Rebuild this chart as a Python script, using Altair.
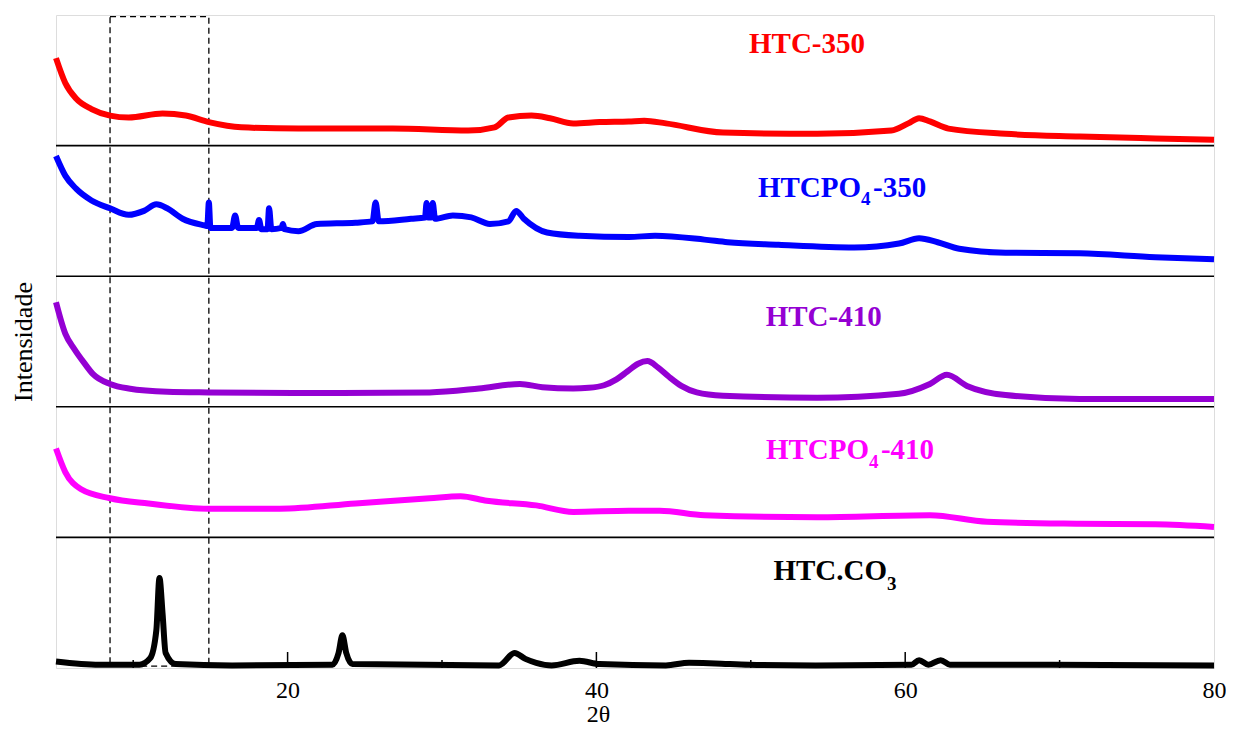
import altair as alt
import pandas as pd

# ---------------- data ----------------
# 2-theta positions and relative intensities (fraction of each panel height)
red_x = [5.0, 5.6, 6.3, 7.3, 8.5, 9.7, 11.9, 13.4, 14.9, 17.0, 20.7, 26.8, 31.7, 33.4, 34.3,
         35.8, 37.0, 38.5, 40.2, 42.1, 43.1, 44.5, 48.2, 54.3, 59.1, 60.2, 60.9, 61.6, 62.8,
         66.5, 71.3, 76.2, 80.0]
red_v = [0.67, 0.48, 0.36, 0.28, 0.23, 0.215, 0.245, 0.23, 0.18, 0.14, 0.13, 0.13, 0.115, 0.14,
         0.215, 0.23, 0.21, 0.17, 0.18, 0.185, 0.19, 0.17, 0.10, 0.09, 0.115, 0.17, 0.21, 0.185,
         0.13, 0.09, 0.07, 0.055, 0.045]

blue_x = [5.0, 5.6, 6.3, 7.3, 8.5, 9.7, 10.7, 11.5, 12.2, 13.2, 14.6, 14.8, 14.9, 15.0, 16.4,
          16.6, 16.8, 18.0, 18.15, 18.3, 18.7, 18.8, 18.95, 19.6, 19.7, 19.8, 20.7, 21.9, 24.4,
          25.5, 25.7, 25.9, 28.0, 28.9, 29.0, 29.1, 29.3, 29.4, 29.55, 30.7, 31.9, 33.1, 34.3,
          34.8, 35.3, 36.8, 38.9, 42.1, 43.8, 47.0, 48.5, 51.8, 56.7, 59.6, 60.9, 62.1, 63.5,
          66.5, 71.3, 76.2, 80.0]
blue_v = [0.92, 0.77, 0.67, 0.58, 0.52, 0.47, 0.50, 0.55, 0.52, 0.44, 0.39, 0.385, 0.565, 0.37,
          0.37, 0.465, 0.37, 0.37, 0.43, 0.36, 0.36, 0.52, 0.36, 0.37, 0.40, 0.36, 0.345, 0.40,
          0.41, 0.42, 0.565, 0.42, 0.44, 0.45, 0.56, 0.45, 0.45, 0.56, 0.44, 0.465, 0.45, 0.40,
          0.42, 0.50, 0.44, 0.335, 0.31, 0.30, 0.31, 0.28, 0.26, 0.24, 0.22, 0.25, 0.29, 0.26,
          0.21, 0.18, 0.175, 0.145, 0.13]

purple_x = [5.0, 5.6, 6.2, 6.8, 7.4, 8.5, 9.7, 12.2, 14.9, 21.9, 29.2, 32.4, 35.05, 36.5,
            38.5, 39.5, 40.5, 41.3, 42.0, 42.7, 43.3, 44.0, 44.7, 45.5, 46.5, 48.2, 54.3, 59.6,
            61.6, 62.7, 64.0, 66.5, 71.3, 80.0]
purple_v = [0.80, 0.56, 0.44, 0.34, 0.25, 0.175, 0.14, 0.115, 0.11, 0.105, 0.11, 0.14,
            0.175, 0.15, 0.14, 0.145, 0.165, 0.21, 0.27, 0.33, 0.35, 0.30, 0.23, 0.16, 0.11,
            0.085, 0.07, 0.10, 0.175, 0.245, 0.16, 0.09, 0.06, 0.06]

magenta_x = [5.0, 5.6, 6.6, 8.5, 11.0, 14.85, 19.5, 24.4, 29.2, 31.2, 32.9, 36.1, 38.5, 42.1,
             44.1, 47.0, 54.3, 61.6, 65.3, 71.3, 76.2, 80.0]
magenta_v = [0.68, 0.50, 0.37, 0.30, 0.26, 0.22, 0.22, 0.26, 0.30, 0.315, 0.28, 0.245, 0.195,
             0.205, 0.205, 0.17, 0.155, 0.17, 0.12, 0.105, 0.10, 0.08]

black_x = [5.0, 7.8, 10.4, 11.1, 11.5, 11.7, 11.9, 12.1, 12.75, 16.4, 22.9, 23.3, 23.55, 23.8,
           24.2, 33.7, 34.7, 35.4, 36.1, 37.1, 38.9, 40.2, 44.5, 46.0, 47.7, 49.9, 54.2, 60.4,
           60.9, 61.5, 62.3, 62.9, 66.1, 80.0]
black_v = [0.05, 0.025, 0.025, 0.075, 0.29, 0.69, 0.42, 0.115, 0.03, 0.02, 0.025, 0.115, 0.25,
           0.115, 0.03, 0.02, 0.115, 0.07, 0.04, 0.02, 0.055, 0.03, 0.02, 0.04, 0.035, 0.025,
           0.02, 0.025, 0.06, 0.025, 0.06, 0.025, 0.025, 0.02]

series_names = ["HTC-350", "HTCPO4-350", "HTC-410", "HTCPO4-410", "HTC.CO3"]
series_colors = ["#ff0000", "#0000ff", "#9400d3", "#ff00ff", "#000000"]
series_x = [red_x, blue_x, purple_x, magenta_x, black_x]
series_v = [red_v, blue_v, purple_v, magenta_v, black_v]

x_tick_labels = [20, 40, 60, 80]
major_ticks = [20, 40, 60]
minor_ticks = [10, 30, 50, 70]
box_x = [8.5, 14.9]

# ---------------- build tables ----------------
n = len(series_names)
rows = []
for i, (name, xs, vs) in enumerate(zip(series_names, series_x, series_v)):
    offset = n - 1 - i
    for k, (xv, vv) in enumerate(zip(xs, vs)):
        rows.append({"series": name, "order": k, "theta": xv, "y": offset + vv})
df = pd.DataFrame(rows)

W, H = 1158, 653
xscale = alt.Scale(domain=[5, 80], nice=False, zero=False)
yscale = alt.Scale(domain=[0, n], nice=False, zero=False)
cscale = alt.Scale(domain=series_names, range=series_colors)

FONT = "Liberation Serif"

lines = alt.Chart(df).mark_line(strokeWidth=6, interpolate="monotone", strokeJoin="round").encode(
    x=alt.X("theta:Q", scale=xscale,
            axis=alt.Axis(values=x_tick_labels, ticks=False, domain=False, grid=False,
                          labelFont=FONT, labelFontSize=24, labelColor="black",
                          labelPadding=10, labelFlush=False, title="2θ",
                          titleFont=FONT, titleFontSize=24, titleFontWeight="normal",
                          titleColor="black", titlePadding=0, titleX=542)),
    y=alt.Y("y:Q", scale=yscale,
            axis=alt.Axis(labels=False, ticks=False, domain=False, grid=False,
                          title="Intensidade", titleFont=FONT, titleFontSize=26,
                          titleFontWeight="normal", titleColor="black", titlePadding=20)),
    color=alt.Color("series:N", scale=cscale, legend=None),
    order="order:Q",
)

sep_df = pd.DataFrame({"y": list(range(1, n))})
separators = alt.Chart(sep_df).mark_rule(color="black", strokeWidth=1.6).encode(
    y=alt.Y("y:Q", scale=yscale), x=alt.value(0), x2=alt.value(W))

box_df = pd.DataFrame({"x": [box_x[0]], "x2": [box_x[1]], "y": [0.015], "y2": [n - 0.012]})
box = alt.Chart(box_df).mark_rect(fillOpacity=0, stroke="black", strokeWidth=1.3,
                                  strokeDash=[6, 4]).encode(
    x=alt.X("x:Q", scale=xscale), x2="x2:Q",
    y=alt.Y("y:Q", scale=yscale), y2="y2:Q")

maj = alt.Chart(pd.DataFrame({"t": major_ticks})).mark_rule(color="black", strokeWidth=1.5).encode(
    x=alt.X("t:Q", scale=xscale), y=alt.value(H), y2=alt.value(H - 16))
mnr = alt.Chart(pd.DataFrame({"t": minor_ticks})).mark_rule(color="black", strokeWidth=1.5).encode(
    x=alt.X("t:Q", scale=xscale), y=alt.value(H), y2=alt.value(H - 8))

# series labels (main part, subscript, tail)
lab_main = pd.DataFrame({
    "text": ["HTC-350", "HTCPO", "HTC-410", "HTCPO", "HTC.CO"],
    "x": [53.64, 57.14, 54.72, 57.66, 58.82],
    "y": [4.709, 3.609, 2.619, 1.603, 0.674],
    "series": series_names,
    "align": ["center", "right", "center", "right", "right"],
})
lab_sub = pd.DataFrame({
    "text": ["4", "4", "3"],
    "x": [57.14, 57.66, 58.82],
    "y": [3.545, 1.534, 0.597],
    "series": ["HTCPO4-350", "HTCPO4-410", "HTC.CO3"],
})
lab_tail = pd.DataFrame({
    "text": ["-350", "-410"],
    "x": [57.92, 58.43],
    "y": [3.609, 1.603],
    "series": ["HTCPO4-350", "HTCPO4-410"],
})

def text_layer(d, align, size):
    return alt.Chart(d).mark_text(align=align, baseline="alphabetic", font=FONT,
                                  fontWeight="bold", fontSize=size).encode(
        x=alt.X("x:Q", scale=xscale), y=alt.Y("y:Q", scale=yscale), text="text:N",
        color=alt.Color("series:N", scale=cscale, legend=None))

t_center = text_layer(lab_main[lab_main["align"] == "center"], "center", 29)
t_right = text_layer(lab_main[lab_main["align"] == "right"], "right", 29)
t_sub = text_layer(lab_sub, "left", 19)
t_tail = text_layer(lab_tail, "left", 29)

chart = alt.layer(separators, box, lines, maj, mnr, t_center, t_right, t_sub, t_tail).properties(
    width=W, height=H,
    autosize=alt.AutoSizeParams(type="none"),
    padding={"left": 48, "top": 7, "right": 12, "bottom": 59},
    background="white",
).configure_view(stroke="black", strokeWidth=2).configure(font=FONT)

chart.save("out.html", embed_options={"renderer": "svg", "actions": False})
